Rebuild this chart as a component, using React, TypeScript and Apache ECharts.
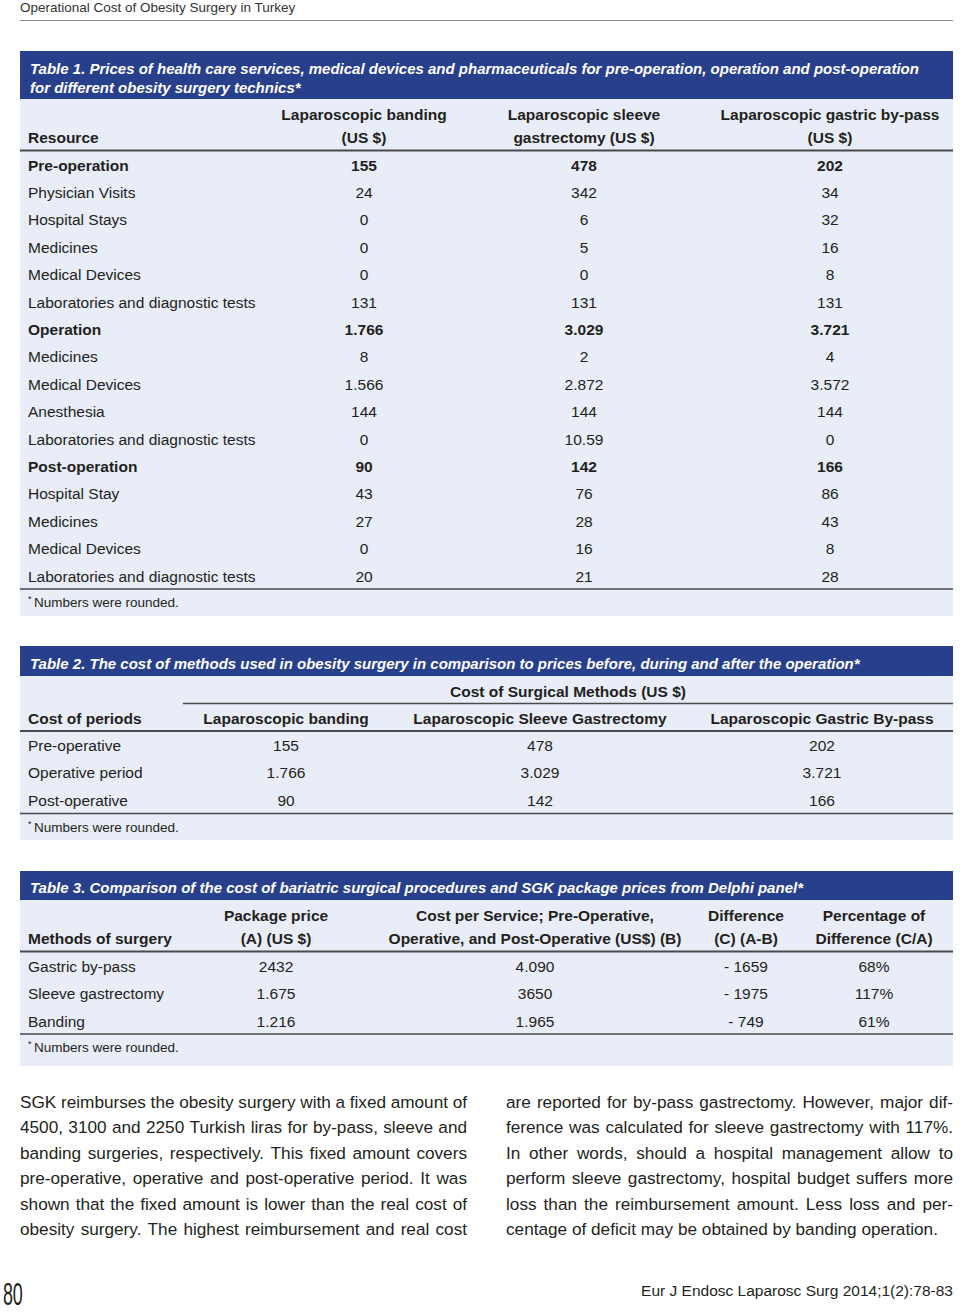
import React, { useEffect, useRef } from "react";
import * as echarts from "echarts";

// ---------- Data ----------
const PAGE_HEADER = "Operational Cost of Obesity Surgery in Turkey";
const FOOTNOTE = "Numbers were rounded.";
const JOURNAL = "Eur J Endosc Laparosc Surg 2014;1(2):78-83";
const PAGE_NO = "80";

const T1_TITLE = [
  "Table 1. Prices of health care services, medical devices and pharmaceuticals for pre-operation, operation and post-operation",
  "for different obesity surgery technics*",
];
const T1_HEAD_LABEL = "Resource";
const T1_HEAD_COLS = [
  ["Laparoscopic banding", "(US $)"],
  ["Laparoscopic sleeve", "gastrectomy (US $)"],
  ["Laparoscopic gastric by-pass", "(US $)"],
];
const T1_LABELS = [
  "Pre-operation", "Physician Visits", "Hospital Stays", "Medicines", "Medical Devices",
  "Laboratories and diagnostic tests", "Operation", "Medicines", "Medical Devices", "Anesthesia",
  "Laboratories and diagnostic tests", "Post-operation", "Hospital Stay", "Medicines",
  "Medical Devices", "Laboratories and diagnostic tests",
];
const T1_BANDING = ["155", "24", "0", "0", "0", "131", "1.766", "8", "1.566", "144", "0", "90", "43", "27", "0", "20"];
const T1_SLEEVE = ["478", "342", "6", "5", "0", "131", "3.029", "2", "2.872", "144", "10.59", "142", "76", "28", "16", "21"];
const T1_BYPASS = ["202", "34", "32", "16", "8", "131", "3.721", "4", "3.572", "144", "0", "166", "86", "43", "8", "28"];
const T1_BOLD = [true, false, false, false, false, false, true, false, false, false, false, true, false, false, false, false];

const T2_TITLE = "Table 2. The cost of methods used in obesity surgery in comparison to prices before, during and after the operation*";
const T2_SUPER = "Cost of Surgical Methods (US $)";
const T2_HEAD = ["Cost of periods", "Laparoscopic banding", "Laparoscopic Sleeve Gastrectomy", "Laparoscopic Gastric By-pass"];
const T2_PERIODS = ["Pre-operative", "Operative period", "Post-operative"];
const T2_BANDING = ["155", "1.766", "90"];
const T2_SLEEVE = ["478", "3.029", "142"];
const T2_BYPASS = ["202", "3.721", "166"];

const T3_TITLE = "Table 3. Comparison of the cost of bariatric surgical procedures and SGK package prices from Delphi panel*";
const T3_HEAD_LABEL = "Methods of surgery";
const T3_HEAD_COLS = [
  ["Package price", "(A) (US $)"],
  ["Cost per Service; Pre-Operative,", "Operative, and Post-Operative (US$) (B)"],
  ["Difference", "(C) (A-B)"],
  ["Percentage of", "Difference (C/A)"],
];
const T3_METHODS = ["Gastric by-pass", "Sleeve gastrectomy", "Banding"];
const T3_PACKAGE = ["2432", "1.675", "1.216"];
const T3_COST = ["4.090", "3650", "1.965"];
const T3_DIFF = ["- 1659", "- 1975", "- 749"];
const T3_PCT = ["68%", "117%", "61%"];

const PARA_LEFT = [
  "SGK reimburses the obesity surgery with a fixed amount of",
  "4500, 3100 and 2250 Turkish liras for by-pass, sleeve and",
  "banding surgeries, respectively. This fixed amount covers",
  "pre-operative, operative and post-operative period. It was",
  "shown that the fixed amount is lower than the real cost of",
  "obesity surgery. The highest reimbursement and real cost",
];
const PARA_RIGHT = [
  "are reported for by-pass gastrectomy. However, major dif-",
  "ference was calculated for sleeve gastrectomy with 117%.",
  "In other words, should a hospital management allow to",
  "perform sleeve gastrectomy, hospital budget suffers more",
  "loss than the reimbursement amount. Less loss and per-",
  "centage of deficit may be obtained by banding operation.",
];

// ---------- Styling ----------
const FONT = "'Liberation Sans', Arial, Helvetica, sans-serif";
const TXT = "#231f20";
const BLUE = "#283f8c";
const PANEL = "#e8edf7";
const RULE = "#4a4a4a";
const L = 20;
const R = 953;
const W = R - L;

type TOpts = { size?: number; bold?: boolean; italic?: boolean; align?: string; fill?: string; lineHeight?: number };

function txt(x: number, y: number, text: string, o: TOpts = {}) {
  const style: any = {
    text,
    fill: o.fill || TXT,
    fontSize: o.size || 15.5,
    fontWeight: o.bold ? "bold" : "normal",
    fontStyle: o.italic ? "italic" : "normal",
    fontFamily: FONT,
    align: o.align || "left",
    verticalAlign: "middle",
  };
  if (o.lineHeight) style.lineHeight = o.lineHeight;
  return { type: "text", x, y, silent: true, style };
}
function rect(x: number, y: number, w: number, h: number, fill: string) {
  return { type: "rect", silent: true, shape: { x, y, width: w, height: h }, style: { fill } };
}
function hline(x1: number, x2: number, y: number, w = 1.5, color = RULE) {
  return { type: "line", silent: true, shape: { x1, y1: y, x2, y2: y }, style: { stroke: color, lineWidth: w } };
}
function footnote(y: number) {
  return [txt(28, y - 3, "*", { size: 9 }), txt(34, y, FOOTNOTE, { size: 13.5 })];
}

let measureCtx: CanvasRenderingContext2D | null = null;
function measure(text: string, size: number) {
  if (!measureCtx) measureCtx = document.createElement("canvas").getContext("2d");
  measureCtx!.font = `${size}px ${FONT}`;
  return measureCtx!.measureText(text).width;
}

function paragraph(lines: string[], x0: number, x1: number, y0: number, step: number, size: number, lastJustified: boolean) {
  const els: any[] = [];
  lines.forEach((line, i) => {
    const y = y0 + i * step;
    const justify = i < lines.length - 1 || lastJustified;
    if (!justify) {
      els.push(txt(x0, y, line, { size }));
      return;
    }
    const words = line.split(" ");
    const widths = words.map((w) => measure(w, size));
    const total = widths.reduce((a, b) => a + b, 0);
    const gap = words.length > 1 ? (x1 - x0 - total) / (words.length - 1) : 0;
    let x = x0;
    words.forEach((w, k) => {
      els.push(txt(x, y, w, { size }));
      x += widths[k] + gap;
    });
  });
  return els;
}

function buildElements() {
  const els: any[] = [];
  // page header
  els.push(txt(20, 7, PAGE_HEADER, { size: 13.5, fill: "#333" }));
  els.push(hline(L, R, 20.5, 1, "#8a8a8a"));

  // ---------- Table 1 ----------
  els.push(rect(L, 51, W, 48, BLUE));
  els.push(txt(30, 68, T1_TITLE[0], { size: 15, bold: true, italic: true, fill: "#fff" }));
  els.push(txt(30, 87, T1_TITLE[1], { size: 15, bold: true, italic: true, fill: "#fff" }));
  els.push(rect(L, 99, W, 517, PANEL));
  const t1x = [364, 584, 830];
  els.push(txt(28, 137, T1_HEAD_LABEL, { bold: true }));
  T1_HEAD_COLS.forEach((c, j) => {
    els.push(txt(t1x[j], 114, c[0], { bold: true, align: "center" }));
    els.push(txt(t1x[j], 137, c[1], { bold: true, align: "center" }));
  });
  els.push(hline(L, R, 150.5, 2));
  T1_LABELS.forEach((lab, i) => {
    const y = 165 + i * 27.4;
    const b = T1_BOLD[i];
    els.push(txt(28, y, lab, { bold: b }));
    els.push(txt(t1x[0], y, T1_BANDING[i], { bold: b, align: "center" }));
    els.push(txt(t1x[1], y, T1_SLEEVE[i], { bold: b, align: "center" }));
    els.push(txt(t1x[2], y, T1_BYPASS[i], { bold: b, align: "center" }));
  });
  els.push(hline(L, R, 589, 1.5));
  els.push(...footnote(602));

  // ---------- Table 2 ----------
  els.push(rect(L, 646, W, 30, BLUE));
  els.push(txt(30, 663, T2_TITLE, { size: 15, bold: true, italic: true, fill: "#fff" }));
  els.push(rect(L, 676, W, 164, PANEL));
  els.push(txt(568, 691, T2_SUPER, { bold: true, align: "center" }));
  els.push(hline(183, R, 703.5, 1.5));
  const t2x = [286, 540, 822];
  els.push(txt(28, 718, T2_HEAD[0], { bold: true }));
  for (let j = 0; j < 3; j++) els.push(txt(t2x[j], 718, T2_HEAD[j + 1], { bold: true, align: "center" }));
  els.push(hline(L, R, 731, 2));
  T2_PERIODS.forEach((p, i) => {
    const y = 745 + i * 27.5;
    els.push(txt(28, y, p));
    els.push(txt(t2x[0], y, T2_BANDING[i], { align: "center" }));
    els.push(txt(t2x[1], y, T2_SLEEVE[i], { align: "center" }));
    els.push(txt(t2x[2], y, T2_BYPASS[i], { align: "center" }));
  });
  els.push(hline(L, R, 813.5, 1.5));
  els.push(...footnote(827));

  // ---------- Table 3 ----------
  els.push(rect(L, 871, W, 29, BLUE));
  els.push(txt(30, 887, T3_TITLE, { size: 15, bold: true, italic: true, fill: "#fff" }));
  els.push(rect(L, 900, W, 166, PANEL));
  const t3x = [276, 535, 746, 874];
  els.push(txt(28, 938, T3_HEAD_LABEL, { bold: true }));
  T3_HEAD_COLS.forEach((c, j) => {
    els.push(txt(t3x[j], 915, c[0], { bold: true, align: "center" }));
    els.push(txt(t3x[j], 938, c[1], { bold: true, align: "center" }));
  });
  els.push(hline(L, R, 951.5, 2));
  T3_METHODS.forEach((m, i) => {
    const y = 966 + i * 27.5;
    els.push(txt(28, y, m));
    els.push(txt(t3x[0], y, T3_PACKAGE[i], { align: "center" }));
    els.push(txt(t3x[1], y, T3_COST[i], { align: "center" }));
    els.push(txt(t3x[2], y, T3_DIFF[i], { align: "center" }));
    els.push(txt(t3x[3], y, T3_PCT[i], { align: "center" }));
  });
  els.push(hline(L, R, 1034, 1.5));
  els.push(...footnote(1047));

  // ---------- Body text ----------
  els.push(...paragraph(PARA_LEFT, 20, 467, 1102, 25.4, 17.2, true));
  els.push(...paragraph(PARA_RIGHT, 506, 953, 1102, 25.4, 17.2, false));

  // ---------- Footer ----------
  els.push(txt(953, 1290, JOURNAL, { size: 15.5, align: "right" }));
  els.push({ ...txt(2, 1294, PAGE_NO, { size: 32 }), scaleX: 0.56, originX: 2, originY: 1294 });
  return els;
}

export default function App() {
  const ref = useRef<HTMLDivElement>(null);
  useEffect(() => {
    if (!ref.current) return;
    const chart = echarts.init(ref.current, undefined, { renderer: "svg" });
    chart.setOption({
      animation: false,
      backgroundColor: "#ffffff",
      graphic: { elements: buildElements() },
    });
    return () => chart.dispose();
  }, []);
  return (
    <div
      ref={ref}
      style={{ position: "absolute", left: 0, top: 0, width: 960, height: 1313, background: "#fff" }}
    />
  );
}
